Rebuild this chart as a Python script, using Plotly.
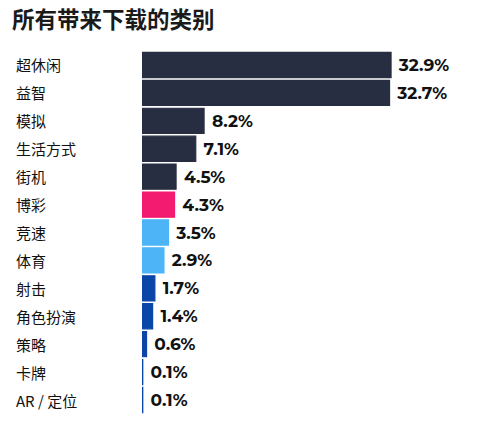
import plotly.graph_objects as go

categories = ["超休闲", "益智", "模拟", "生活方式", "街机", "博彩", "竞速", "体育",
              "射击", "角色扮演", "策略", "卡牌", "AR / 定位"]
values = [32.9, 32.7, 8.2, 7.1, 4.5, 4.3, 3.5, 2.9, 1.7, 1.4, 0.6, 0.1, 0.1]
labels = ["32.9%", "32.7%", "8.2%", "7.1%", "4.5%", "4.3%", "3.5%", "2.9%",
          "1.7%", "1.4%", "0.6%", "0.1%", "0.1%"]
title = "所有带来下载的类别"

NAVY = "#272e41"
PINK = "#f31b6f"
LIGHT = "#4db5f7"
BLUE = "#0a45a8"
colors = [NAVY] * 5 + [PINK] + [LIGHT] * 2 + [BLUE] * 5

W, H = 500, 429
L, R, T, B = 142, 8, 51, 15
pw = W - L - R
ppx = 7.57

fig = go.Figure(go.Bar(
    x=values, y=categories, orientation="h",
    marker=dict(color=colors, line=dict(color=colors, width=1.2)),
    text=[" " + t for t in labels], textposition="outside", cliponaxis=False,
    textfont=dict(family="Montserrat, Open Sans, sans-serif", size=17, color="#111111",
                  weight="bold"),
    hoverinfo="skip",
))

for c in categories:
    fig.add_annotation(x=-(L - 14) / pw, xref="paper", y=c, yref="y",
                       text=c, showarrow=False, xanchor="left", yanchor="middle",
                       font=dict(family="Noto Sans CJK SC, sans-serif", size=15,
                                 color="#111111"))

fig.update_layout(
    width=W, height=H,
    margin=dict(l=L, r=R, t=T, b=B),
    paper_bgcolor="white", plot_bgcolor="white",
    bargap=0.1,
    showlegend=False,
    title=dict(text=title, x=12 / W, xanchor="left", y=1 - 20 / H, yanchor="middle",
               font=dict(family="Noto Sans CJK SC, sans-serif", size=22.5, color="#1a1a1a",
                         weight="bold")),
    xaxis=dict(range=[0, pw / ppx], visible=False, fixedrange=True),
    yaxis=dict(categoryorder="array", categoryarray=categories, autorange="reversed",
               showticklabels=False, showgrid=False, zeroline=False, showline=False,
               ticks="", fixedrange=True),
)

fig.write_html("out.html", config={"displayModeBar": False},
               post_script="document.body.style.margin='0';document.body.style.padding='0';")
